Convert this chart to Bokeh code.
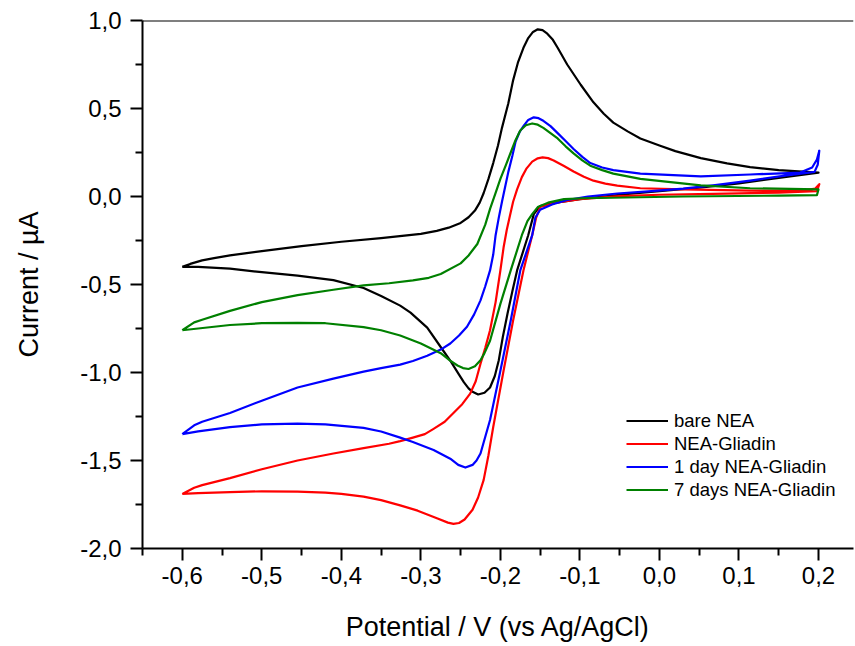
from bokeh.plotting import figure
from bokeh.models import (FixedTicker, LinearAxis, Legend, LegendItem, Range1d, Span)
from bokeh.embed import file_html
from bokeh.resources import INLINE

# ---------------- data ----------------
# bare NEA: forward scan (-0.6 -> 0.2) then return scan (0.2 -> -0.6)
bare_E = [-0.600, -0.590, -0.575, -0.560, -0.540, -0.500, -0.450, -0.400, -0.350, -0.300,
          -0.280, -0.265, -0.250, -0.240, -0.232, -0.226, -0.221, -0.215, -0.209, -0.203,
          -0.198, -0.190, -0.184, -0.178, -0.171, -0.165, -0.159, -0.153, -0.147, -0.141,
          -0.134, -0.128, -0.116, -0.099, -0.083, -0.070, -0.058, -0.040, -0.024, 0.000,
          0.020, 0.052, 0.085, 0.114, 0.150, 0.200,
          0.150, 0.100, 0.050, 0.000, -0.050, -0.100, -0.130, -0.150, -0.158, -0.165,
          -0.172, -0.179, -0.185, -0.191, -0.197, -0.202, -0.207, -0.213, -0.220, -0.228,
          -0.235, -0.240, -0.246, -0.253, -0.262, -0.272, -0.292, -0.313, -0.326, -0.350,
          -0.372, -0.410, -0.455, -0.500, -0.540, -0.580, -0.600]
bare_I = [-0.400, -0.383, -0.363, -0.350, -0.335, -0.310, -0.282, -0.257, -0.236, -0.212,
          -0.195, -0.177, -0.150, -0.118, -0.080, -0.035, 0.020, 0.100, 0.190, 0.290,
          0.390, 0.530, 0.660, 0.760, 0.845, 0.900, 0.935, 0.950, 0.945, 0.925,
          0.890, 0.845, 0.750, 0.635, 0.535, 0.470, 0.420, 0.370, 0.330, 0.290,
          0.258, 0.218, 0.188, 0.167, 0.150, 0.136,
          0.105, 0.075, 0.050, 0.030, 0.010, -0.015, -0.035, -0.055, -0.100, -0.220,
          -0.320, -0.420, -0.540, -0.665, -0.800, -0.930, -1.020, -1.085, -1.115, -1.125,
          -1.110, -1.090, -1.055, -1.005, -0.940, -0.875, -0.745, -0.660, -0.620, -0.565,
          -0.520, -0.475, -0.450, -0.430, -0.410, -0.400, -0.400]

# NEA-Gliadin
gli_E = [-0.600, -0.585, -0.575, -0.540, -0.500, -0.455, -0.410, -0.372, -0.340, -0.326,
         -0.310, -0.295, -0.284, -0.270, -0.259, -0.248, -0.238, -0.231, -0.225, -0.219,
         -0.213, -0.206, -0.200, -0.196, -0.192, -0.188, -0.184, -0.179, -0.173, -0.167,
         -0.160, -0.153, -0.147, -0.140, -0.133, -0.120, -0.108, -0.095, -0.083, -0.068,
         -0.053, -0.024, 0.030, 0.114, 0.180, 0.196, 0.201,
         0.198, 0.150, 0.100, 0.050, 0.000, -0.050, -0.100, -0.130, -0.150, -0.155,
         -0.160, -0.171, -0.184, -0.196, -0.209, -0.215, -0.221, -0.228, -0.235, -0.245,
         -0.252, -0.259, -0.266, -0.279, -0.304, -0.326, -0.350, -0.372, -0.400, -0.420,
         -0.455, -0.500, -0.540, -0.580, -0.600]
gli_I = [-1.690, -1.655, -1.640, -1.600, -1.550, -1.500, -1.460, -1.430, -1.405, -1.390,
         -1.370, -1.350, -1.320, -1.280, -1.230, -1.180, -1.120, -1.050, -0.950, -0.860,
         -0.760, -0.600, -0.420, -0.290, -0.190, -0.110, -0.030, 0.040, 0.110, 0.160,
         0.198, 0.217, 0.222, 0.218, 0.205, 0.173, 0.142, 0.112, 0.090, 0.073,
         0.062, 0.047, 0.040, 0.033, 0.034, 0.045, 0.070,
         0.030, 0.022, 0.018, 0.014, 0.010, 0.002, -0.015, -0.035, -0.060, -0.120,
         -0.220, -0.420, -0.705, -0.990, -1.310, -1.470, -1.610, -1.710, -1.780, -1.835,
         -1.855, -1.860, -1.853, -1.830, -1.785, -1.755, -1.725, -1.705, -1.690, -1.683,
         -1.677, -1.675, -1.680, -1.685, -1.690]

# 1 day NEA-Gliadin
day1_E = [-0.600, -0.585, -0.575, -0.540, -0.500, -0.455, -0.410, -0.372, -0.350, -0.326,
          -0.310, -0.292, -0.275, -0.263, -0.252, -0.242, -0.233, -0.225, -0.219, -0.213,
          -0.209, -0.206, -0.202, -0.198, -0.194, -0.190, -0.185, -0.181, -0.176, -0.171,
          -0.165, -0.158, -0.152, -0.146, -0.137, -0.128, -0.118, -0.108, -0.097, -0.087,
          -0.072, -0.058, -0.024, 0.052, 0.114, 0.177, 0.192, 0.198, 0.201,
          0.199, 0.195, 0.160, 0.114, 0.070, 0.030, -0.010, -0.053, -0.090, -0.116,
          -0.135, -0.150, -0.156, -0.160, -0.175, -0.187, -0.200, -0.213, -0.225, -0.230,
          -0.235, -0.244, -0.253, -0.263, -0.284, -0.310, -0.326, -0.350, -0.372, -0.420,
          -0.455, -0.500, -0.540, -0.580, -0.600]
day1_I = [-1.350, -1.300, -1.280, -1.230, -1.160, -1.085, -1.035, -0.995, -0.975, -0.955,
          -0.935, -0.905, -0.870, -0.835, -0.790, -0.740, -0.670, -0.590, -0.510, -0.420,
          -0.330, -0.220, -0.120, -0.030, 0.055, 0.140, 0.230, 0.310, 0.365, 0.400,
          0.435, 0.450, 0.445, 0.430, 0.400, 0.360, 0.315, 0.270, 0.225, 0.190,
          0.165, 0.150, 0.130, 0.114, 0.125, 0.136, 0.165, 0.210, 0.260,
          0.180, 0.140, 0.120, 0.090, 0.065, 0.045, 0.030, 0.017, 0.000, -0.020,
          -0.045, -0.075, -0.120, -0.220, -0.420, -0.705, -0.990, -1.270, -1.460, -1.500,
          -1.525, -1.540, -1.525, -1.490, -1.440, -1.395, -1.370, -1.335, -1.315, -1.295,
          -1.290, -1.295, -1.310, -1.335, -1.350]

# 7 days NEA-Gliadin
day7_E = [-0.600, -0.585, -0.575, -0.540, -0.500, -0.455, -0.410, -0.372, -0.340, -0.310,
          -0.290, -0.275, -0.250, -0.240, -0.229, -0.219, -0.213, -0.206, -0.200, -0.193,
          -0.187, -0.181, -0.175, -0.168, -0.160, -0.153, -0.146, -0.137, -0.128, -0.118,
          -0.108, -0.097, -0.087, -0.072, -0.058, -0.024, 0.052, 0.114, 0.200,
          0.198, 0.150, 0.030, -0.096, -0.120, -0.140, -0.153, -0.160, -0.166, -0.173,
          -0.187, -0.200, -0.213, -0.220, -0.225, -0.232, -0.240, -0.247, -0.254, -0.264,
          -0.275, -0.300, -0.326, -0.350, -0.372, -0.420, -0.455, -0.500, -0.540, -0.580,
          -0.600]
day7_I = [-0.760, -0.715, -0.700, -0.650, -0.600, -0.560, -0.530, -0.505, -0.493, -0.477,
          -0.462, -0.440, -0.380, -0.335, -0.270, -0.160, -0.070, 0.020, 0.100, 0.180,
          0.250, 0.320, 0.375, 0.405, 0.415, 0.408, 0.390, 0.360, 0.330, 0.285,
          0.245, 0.205, 0.175, 0.150, 0.130, 0.100, 0.063, 0.047, 0.040,
          0.008, 0.005, 0.000, -0.010, -0.015, -0.035, -0.060, -0.100, -0.140, -0.220,
          -0.420, -0.610, -0.820, -0.890, -0.930, -0.965, -0.980, -0.975, -0.960, -0.930,
          -0.890, -0.835, -0.790, -0.760, -0.742, -0.720, -0.718, -0.720, -0.730, -0.750,
          -0.760]

series_names = ["bare NEA", "NEA-Gliadin", "1 day NEA-Gliadin", "7 days NEA-Gliadin"]
series_colors = ["#000000", "#FF0000", "#0000FF", "#008000"]

x_ticks = [-0.6, -0.5, -0.4, -0.3, -0.2, -0.1, 0.0, 0.1, 0.2]
x_tick_labels = ["-0,6", "-0,5", "-0,4", "-0,3", "-0,2", "-0,1", "0,0", "0,1", "0,2"]
x_minor = [-0.65, -0.55, -0.45, -0.35, -0.25, -0.15, -0.05, 0.05, 0.15]
y_ticks = [-2.0, -1.5, -1.0, -0.5, 0.0, 0.5, 1.0]
y_tick_labels = ["-2,0", "-1,5", "-1,0", "-0,5", "0,0", "0,5", "1,0"]
y_minor = [-1.75, -1.25, -0.75, -0.25, 0.25, 0.75]

FONT = "Liberation Sans"

# ---------------- figure ----------------
p = figure(width=855, height=646, output_backend="svg", toolbar_location=None,
           x_range=Range1d(-0.65, 0.244), y_range=Range1d(-2.0, 1.0),
           min_border_left=142, min_border_right=2, min_border_top=20,
           min_border_bottom=98, x_axis_type=None, y_axis_type=None)
p.grid.visible = False
p.outline_line_color = None
p.background_fill_color = "white"
p.border_fill_color = "white"

xaxis = LinearAxis(ticker=FixedTicker(ticks=x_ticks, minor_ticks=x_minor))
yaxis = LinearAxis(ticker=FixedTicker(ticks=y_ticks, minor_ticks=y_minor))
xaxis.major_label_overrides = {t: l for t, l in zip(x_ticks, x_tick_labels)}
yaxis.major_label_overrides = {t: l for t, l in zip(y_ticks, y_tick_labels)}
xaxis.axis_label = "Potential / V (vs Ag/AgCl)"
yaxis.axis_label = "Current / µA"
for ax in (xaxis, yaxis):
    ax.axis_line_width = 2
    ax.axis_line_color = "black"
    ax.major_tick_line_width = 2
    ax.minor_tick_line_width = 2
    ax.major_tick_line_color = "black"
    ax.minor_tick_line_color = "black"
    ax.major_tick_in = 0
    ax.major_tick_out = 12
    ax.minor_tick_in = 0
    ax.minor_tick_out = 7
    ax.major_label_text_font = FONT
    ax.major_label_text_font_size = "24px"
    ax.major_label_text_color = "black"
    ax.axis_label_text_font = FONT
    ax.axis_label_text_font_size = "27px"
    ax.axis_label_text_font_style = "normal"
    ax.axis_label_text_color = "black"
xaxis.major_label_standoff = 6
yaxis.major_label_standoff = 9
xaxis.axis_label_standoff = 25
yaxis.axis_label_standoff = 33
p.add_layout(xaxis, "below")
p.add_layout(yaxis, "left")

# top frame line
p.add_layout(Span(location=1.0, dimension="width", line_color="black", line_width=2))

data = [(bare_E, bare_I), (gli_E, gli_I), (day1_E, day1_I), (day7_E, day7_I)]
renderers = []
for (e, i), c in zip(data, series_colors):
    r = p.line(e, i, line_color=c, line_width=2.2, line_join="round")
    renderers.append(r)

legend = Legend(items=[LegendItem(label=n, renderers=[r]) for n, r in zip(series_names, renderers)],
                location=(484, 47), orientation="vertical")
legend.border_line_color = None
legend.background_fill_alpha = 0
legend.padding = 0
legend.margin = 0
legend.spacing = 0
legend.glyph_width = 42
legend.glyph_height = 23
legend.label_height = 23
legend.label_standoff = 6
legend.label_text_font = FONT
legend.label_text_font_size = "18.5px"
legend.label_text_color = "black"
p.add_layout(legend, "center")

open("out.html", "w").write(file_html(p, INLINE))
